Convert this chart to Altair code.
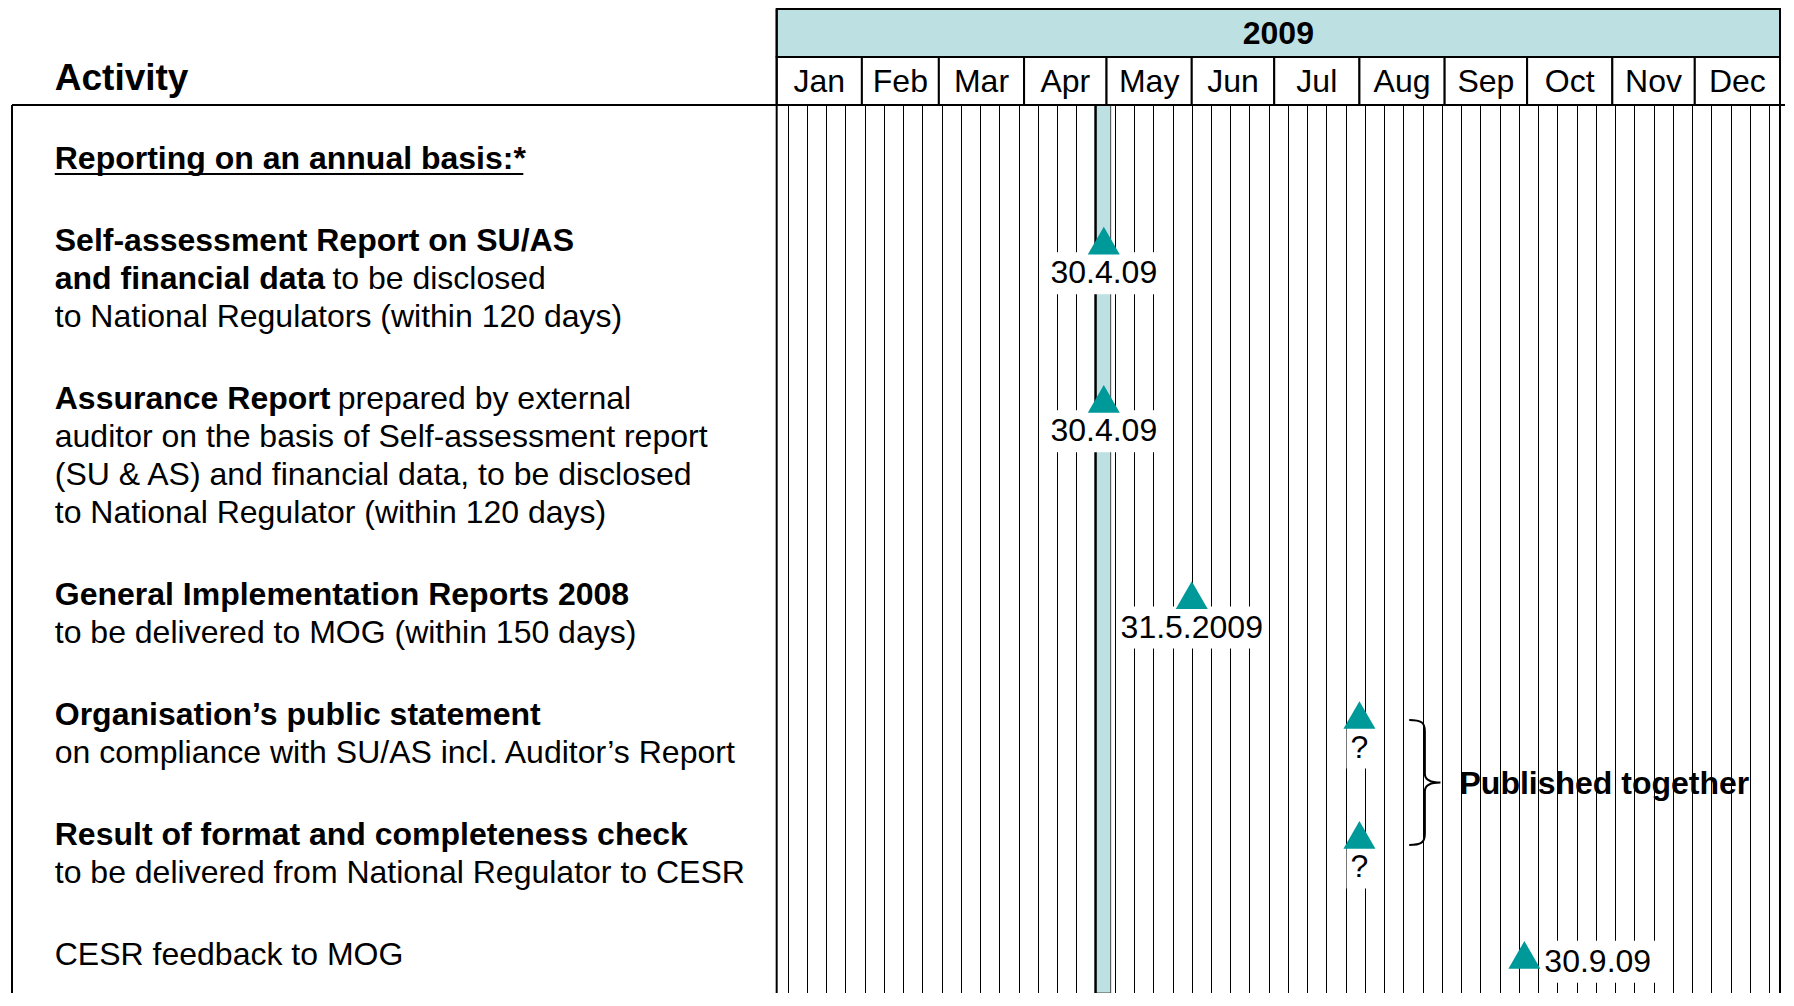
import altair as alt
import pandas as pd

# ---------------- data ----------------
months = ["Jan", "Feb", "Mar", "Apr", "May", "Jun", "Jul", "Aug", "Sep", "Oct", "Nov", "Dec"]
month_days = [31, 28, 31, 30, 31, 30, 31, 31, 30, 31, 30, 31]
year_label = "2009"
header_label = "Activity"
section_label = "Reporting on an annual basis:*"

activities = [
    [[("Self-assessment Report on SU/AS", True)],
     [("and financial data", True), ("to be disclosed", False)],
     [("to National Regulators (within 120 days)", False)]],
    [[("Assurance Report", True), ("prepared by external", False)],
     [("auditor on the basis of Self-assessment report", False)],
     [("(SU & AS) and financial data, to be disclosed", False)],
     [("to National Regulator (within 120 days)", False)]],
    [[("General Implementation Reports 2008", True)],
     [("to be delivered to MOG (within 150 days)", False)]],
    [[("Organisation\u2019s public statement", True)],
     [("on compliance with SU/AS incl. Auditor\u2019s Report", False)]],
    [[("Result of format and completeness check", True)],
     [("to be delivered from National Regulator to CESR", False)]],
    [[("CESR feedback to MOG", False)]],
]

milestone_rows = [0, 1, 2, 3, 4, 5]
milestone_day = [119, 119, 151, 212, 212, 272]          # day of 2009, Jan 1 = 0
milestone_label = ["30.4.09", "30.4.09", "31.5.2009", "?", "?", "30.9.09"]

highlight_week = [116, 121.5]                          # week of 27 Apr - 1 May
week_starts = list(range(4, 365, 7))                   # Mondays of 2009

group_rows = [3, 4]
group_label = "Published together"
brace_day = 235.8
group_label_day = 248.4

# ---------------- layout helpers ----------------
W, H = 1778, 985
DAY0 = 768                # chart px of 1 Jan
DAYEND = 1777             # chart px of 31 Dec end
PPD = (DAYEND - DAY0) / 365


def px2day(px):
    return (px - DAY0) / PPD


BOLD = {' ': 278, 'a': 556, 'b': 611, 'c': 556, 'd': 611, 'e': 556, 'f': 333, 'g': 611,
        'h': 611, 'i': 278, 'j': 278, 'k': 556, 'l': 278, 'm': 889, 'n': 611, 'o': 611,
        'p': 611, 'q': 611, 'r': 389, 's': 556, 't': 333, 'u': 611, 'v': 556, 'w': 778,
        'x': 556, 'y': 556, 'z': 500, 'A': 722, 'R': 722, 'S': 667, 'U': 722, ':': 333,
        '*': 389, '/': 278, '-': 333}
REG = {'.': 278, '?': 556, ' ': 278}


def text_width(s, table, size=32):
    return sum(table.get(c, 556) for c in s) * size / 1000


FS = 32
L, G = 38.2, 43.5
TEXT_X = 42
section_y = 151.0
y = section_y + L + G
block_y = []
for blk in activities:
    block_y.append(y)
    y += len(blk) * L + G

seg_rows = []
for i, blk in enumerate(activities):
    for j, line in enumerate(blk):
        xpx = TEXT_X
        for txt, bold in line:
            seg_rows.append(dict(text=txt, bold=bold, day=px2day(xpx), y=block_y[i] + j * L))
            xpx += text_width(txt, BOLD if bold else REG) + 278 * FS / 1000
segs = pd.DataFrame(seg_rows)

starts = [sum(month_days[:i]) for i in range(12)]
mdf = pd.DataFrame(dict(month=months, start=starts,
                        end=[s + d for s, d in zip(starts, month_days)]))
mdf["mid"] = (mdf.start + mdf.end) / 2

ms = pd.DataFrame(dict(day=milestone_day, label=milestone_label,
                       y=[block_y[i] for i in milestone_rows]))
ms["w"] = [text_width(t, REG) + 8 for t in milestone_label]
# label below the triangle, or beside it when there is no room left at the bottom
ms["side"] = [v + 32.5 + 20 > H for v in ms.y]
ms["ly"] = [v + 7 if s else v + 32.5 for v, s in zip(ms.y, ms.side)]
ms["ly0"] = ms.ly - 21
ms["ly1"] = ms.ly + 21

xs = alt.Scale(domain=[px2day(0), px2day(W)], nice=False, zero=False)
ys = alt.Scale(domain=[0, H], reverse=True, nice=False, zero=False)
grid_axis = alt.Axis(values=week_starts, grid=True, gridColor="#000000", gridWidth=1,
                     gridOpacity=1, labels=False, ticks=False, domain=False, title=None)


def X(f):
    return alt.X(f, type="quantitative", scale=xs, axis=grid_axis)


def Y(f):
    return alt.Y(f, type="quantitative", scale=ys, axis=None)


TEAL = "#009999"
BLUE = "#BDE0E3"
FONT = "Liberation Sans"

layers = []

# highlighted week band
band = pd.DataFrame(dict(a=[highlight_week[0]], b=[highlight_week[1]]))
layers.append(alt.Chart(band).mark_rect(fill=BLUE, stroke="#444444", strokeWidth=1).encode(
    x=X("a"), x2="b", y=alt.value(97), y2=alt.value(H)))
layers.append(alt.Chart(band).mark_rule(color="black", strokeWidth=2.5).encode(
    x=X("a"), y=alt.value(97), y2=alt.value(H)))

# header
yr = pd.DataFrame(dict(a=[0], b=[365], mid=[182.5], t=[year_label]))
layers.append(alt.Chart(yr).mark_rect(fill=BLUE, stroke="black", strokeWidth=2).encode(
    x=X("a"), x2="b", y=alt.value(1), y2=alt.value(49)))
layers.append(alt.Chart(yr).mark_text(font=FONT, fontSize=FS, fontWeight="bold", color="black",
                                      align="center", baseline="middle").encode(
    x=X("mid"), y=alt.value(26), text="t:N"))
layers.append(alt.Chart(mdf).mark_rect(fill="white", stroke="black", strokeWidth=2).encode(
    x=X("start"), x2="end", y=alt.value(49), y2=alt.value(97)))
layers.append(alt.Chart(mdf).mark_text(font=FONT, fontSize=FS, color="black",
                                       align="center", baseline="middle").encode(
    x=X("mid"), y=alt.value(74), text="month:N"))

# gantt borders
layers.append(alt.Chart(yr).mark_rule(color="black", strokeWidth=2).encode(
    x=X("a"), y=alt.value(1), y2=alt.value(H)))
layers.append(alt.Chart(yr).mark_rule(color="black", strokeWidth=2).encode(
    x=X("b"), y=alt.value(1), y2=alt.value(H)))
# activity panel borders
layers.append(alt.Chart(yr).mark_rule(color="black", strokeWidth=2).encode(
    x=alt.value(4), x2=alt.value(DAYEND), y=alt.value(97)))
layers.append(alt.Chart(yr).mark_rule(color="black", strokeWidth=2).encode(
    x=alt.value(4), y=alt.value(97), y2=alt.value(H)))

# header + section title
hd = pd.DataFrame(dict(t=[header_label], day=[px2day(TEXT_X)], y=[71]))
layers.append(alt.Chart(hd).mark_text(font=FONT, fontSize=37, fontWeight="bold", color="black",
                                      align="left", baseline="middle").encode(
    x=X("day"), y=Y("y"), text="t:N"))
sec = pd.DataFrame(dict(t=[section_label], day=[px2day(TEXT_X)], y=[section_y],
                        a=[px2day(TEXT_X)],
                        b=[px2day(TEXT_X + text_width(section_label, BOLD))],
                        u=[section_y + 15]))
layers.append(alt.Chart(sec).mark_text(font=FONT, fontSize=FS, fontWeight="bold", color="black",
                                       align="left", baseline="middle").encode(
    x=X("day"), y=Y("y"), text="t:N"))
layers.append(alt.Chart(sec).mark_rule(color="black", strokeWidth=2).encode(
    x=X("a"), x2="b", y=Y("u")))

# activity texts
for bold in (True, False):
    sub = segs[segs.bold == bold]
    layers.append(alt.Chart(sub).mark_text(font=FONT, fontSize=FS,
                                           fontWeight="bold" if bold else "normal",
                                           color="black", align="left", baseline="middle").encode(
        x=X("day"), y=Y("y"), text="text:N"))

# milestones: labels below the triangle
below = ms[~ms.side]
layers.append(alt.Chart(below).mark_bar(color="white").encode(
    x=X("day"), y=Y("ly0"), y2="ly1", size=alt.Size("w:Q", scale=None)))
layers.append(alt.Chart(below).mark_text(font=FONT, fontSize=FS, color="black",
                                         align="center", baseline="middle").encode(
    x=X("day"), y=Y("ly"), text="label:N"))
# milestones: labels beside the triangle (bottom edge)
SIDE_GAP = 20
for _, r in ms[ms.side].iterrows():
    one = pd.DataFrame([r])
    layers.append(alt.Chart(one).mark_bar(color="white", xOffset=SIDE_GAP + r.w / 2 - 4).encode(
        x=X("day"), y=Y("ly0"), y2="ly1", size=alt.Size("w:Q", scale=None)))
    layers.append(alt.Chart(one).mark_text(font=FONT, fontSize=FS, color="black",
                                           align="left", baseline="middle", dx=SIDE_GAP).encode(
        x=X("day"), y=Y("ly"), text="label:N"))
layers.append(alt.Chart(ms).mark_point(shape="triangle-up", filled=True, size=1024,
                                       color=TEAL, opacity=1).encode(
    x=X("day"), y=Y("y")))

# brace + group label
gy = (block_y[group_rows[0]] + block_y[group_rows[1]]) / 2
grp = pd.DataFrame(dict(bx=[brace_day], lx=[group_label_day], y=[gy], t=[group_label]))
brace_path = ("M-0.25,-1C-0.06,-1,0,-0.96,0,-0.82L0,-0.14C0,-0.04,0.1,0,0.25,0"
              "C0.1,0,0,0.04,0,0.14L0,0.82C0,0.96,-0.06,1,-0.25,1")
layers.append(alt.Chart(grp).mark_point(shape=brace_path, filled=False, size=125 * 125,
                                        stroke="black", strokeWidth=2, opacity=1,
                                        yOffset=7.5).encode(
    x=X("bx"), y=Y("y")))
layers.append(alt.Chart(grp).mark_text(font=FONT, fontSize=FS, fontWeight="bold", color="black",
                                       align="left", baseline="middle", dy=9).encode(
    x=X("lx"), y=Y("y"), text="t:N"))

chart = alt.layer(*layers).properties(
    width=W, height=H, padding=0,
    autosize=alt.AutoSizeParams(type="none"),
).configure_view(stroke=None)

chart.save("out.html", embed_options={"renderer": "svg", "actions": False})
